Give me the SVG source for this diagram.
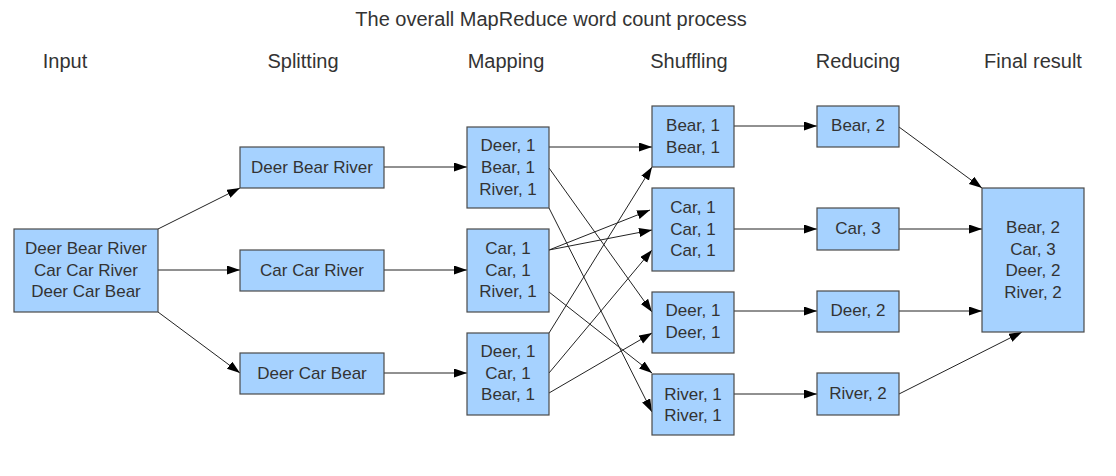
<svg xmlns="http://www.w3.org/2000/svg" width="1116" height="476" viewBox="0 0 1116 476">
<style>
text{font-family:"Liberation Sans",Arial,sans-serif;font-size:17px;fill:#333;text-anchor:middle}
.h{font-size:20px}
.box{fill:#a6d2ff;stroke:#4a4a4a;stroke-width:1.2}
.c line{stroke:#222;stroke-width:1;marker-end:url(#ah)}
</style>
<defs>
<marker id="ah" markerUnits="userSpaceOnUse" markerWidth="14" markerHeight="10" refX="13" refY="4.5" orient="auto" viewBox="0 0 14 10">
<path d="M0,0 L13,4.5 L0,9 z" fill="#000"/>
</marker>
</defs>
<rect width="1116" height="476" fill="#fff"/>
<g id="labels">
<text class="h" x="551" y="26">The overall MapReduce word count process</text>
<text class="h" x="65" y="68">Input</text>
<text class="h" x="303" y="68">Splitting</text>
<text class="h" x="506" y="68">Mapping</text>
<text class="h" x="689" y="68">Shuffling</text>
<text class="h" x="858" y="68">Reducing</text>
<text class="h" x="1033" y="68">Final result</text>
</g>
<g class="c" id="connectors">
<line x1="158" y1="229" x2="240" y2="188"/>
<line x1="158" y1="270" x2="240" y2="270"/>
<line x1="158" y1="312" x2="240" y2="373"/>
<line x1="384" y1="167" x2="467" y2="167"/>
<line x1="384" y1="270" x2="467" y2="270"/>
<line x1="384" y1="373" x2="467" y2="373"/>
<line x1="549" y1="147" x2="652" y2="147"/>
<line x1="549" y1="168" x2="652" y2="312"/>
<line x1="549" y1="208" x2="652" y2="412"/>
<line x1="549" y1="250" x2="650" y2="210"/>
<line x1="549" y1="250" x2="652" y2="230"/>
<line x1="549" y1="292" x2="652" y2="373"/>
<line x1="549" y1="333" x2="652" y2="167"/>
<line x1="549" y1="373" x2="652" y2="250"/>
<line x1="549" y1="393" x2="652" y2="333"/>
<line x1="734" y1="126" x2="817" y2="126"/>
<line x1="734" y1="229" x2="817" y2="229"/>
<line x1="734" y1="311" x2="817" y2="311"/>
<line x1="734" y1="394" x2="817" y2="394"/>
<line x1="899" y1="127" x2="982" y2="188"/>
<line x1="899" y1="229" x2="982" y2="229"/>
<line x1="899" y1="311" x2="982" y2="311"/>
<line x1="899" y1="394" x2="1022" y2="332"/>
</g>
<g id="input"><rect class="box" x="14" y="229" width="144" height="83"/>
<text x="86" y="254">Deer Bear River</text><text x="86" y="275.5">Car Car River</text><text x="86" y="297">Deer Car Bear</text></g>
<g id="split1"><rect class="box" x="240" y="147" width="144" height="41"/><text x="312" y="173">Deer Bear River</text></g>
<g id="split2"><rect class="box" x="240" y="250" width="144" height="41"/><text x="312" y="275.5">Car Car River</text></g>
<g id="split3"><rect class="box" x="240" y="353" width="144" height="41"/><text x="312" y="379">Deer Car Bear</text></g>
<g id="map1"><rect class="box" x="467" y="127" width="82" height="81"/>
<text x="508" y="151">Deer, 1</text><text x="508" y="173">Bear, 1</text><text x="508" y="194.5">River, 1</text></g>
<g id="map2"><rect class="box" x="467" y="229" width="82" height="83"/>
<text x="508" y="254">Car, 1</text><text x="508" y="275.5">Car, 1</text><text x="508" y="297">River, 1</text></g>
<g id="map3"><rect class="box" x="467" y="333" width="82" height="82"/>
<text x="508" y="357">Deer, 1</text><text x="508" y="378.5">Car, 1</text><text x="508" y="400">Bear, 1</text></g>
<g id="shuf1"><rect class="box" x="652" y="106" width="82" height="61"/>
<text x="693" y="131">Bear, 1</text><text x="693" y="153">Bear, 1</text></g>
<g id="shuf2"><rect class="box" x="652" y="188" width="82" height="83"/>
<text x="693" y="213">Car, 1</text><text x="693" y="234.5">Car, 1</text><text x="693" y="256">Car, 1</text></g>
<g id="shuf3"><rect class="box" x="652" y="292" width="82" height="61"/>
<text x="693" y="316">Deer, 1</text><text x="693" y="338">Deer, 1</text></g>
<g id="shuf4"><rect class="box" x="652" y="374" width="82" height="61"/>
<text x="693" y="399.5">River, 1</text><text x="693" y="420.5">River, 1</text></g>
<g id="red1"><rect class="box" x="817" y="106" width="82" height="41"/><text x="858" y="131">Bear, 2</text></g>
<g id="red2"><rect class="box" x="817" y="208" width="82" height="42"/><text x="858" y="234">Car, 3</text></g>
<g id="red3"><rect class="box" x="817" y="291" width="82" height="41"/><text x="858" y="316">Deer, 2</text></g>
<g id="red4"><rect class="box" x="817" y="373" width="82" height="42"/><text x="858" y="399">River, 2</text></g>
<g id="final"><rect class="box" x="982" y="188" width="102" height="144"/>
<text x="1033" y="233">Bear, 2</text><text x="1033" y="254.5">Car, 3</text><text x="1033" y="276">Deer, 2</text><text x="1033" y="297.5">River, 2</text></g>
</svg>
